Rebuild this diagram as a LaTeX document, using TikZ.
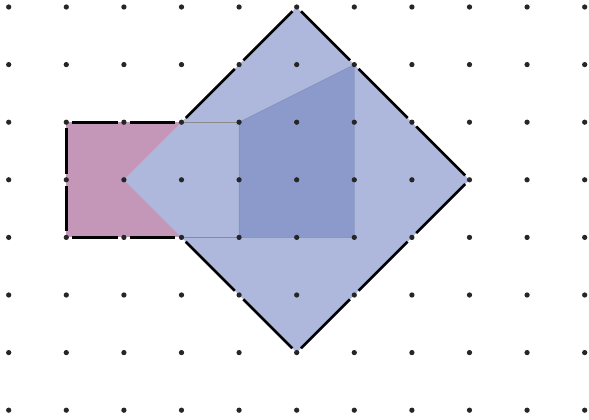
\documentclass[tikz,border=0pt]{standalone}
\usepackage{tikz}
\definecolor{pinkfill}{RGB}{196,151,185}
\definecolor{lightblue}{RGB}{174,184,220}
\definecolor{darkblue}{RGB}{140,154,203}

\begin{document}
\begin{tikzpicture}
\useasboundingbox (-0.151,-0.153) rectangle (10.075,7.1215);
\fill[pinkfill] (1,3) rectangle (3,5);
\fill[lightblue] (5,7) -- (8,4) -- (5,1) -- (3,3) -- (2,4) -- (3,5) -- cycle;
\filldraw[fill=darkblue,draw=darkblue!90!black,very thin] (4,3) -- (4,5) -- (6,6) -- (6,3) -- cycle;
\draw[black!45,thin] (3,5) -- (4,5) (3,3) -- (4,3);
\foreach \a/\b/\c/\d in {1/5/2/5,2/5/3/5,1/5/1/4,1/4/1/3,1/3/2/3,2/3/3/3,
  3/5/4/6,4/6/5/7,5/7/6/6,6/6/7/5,7/5/8/4,8/4/7/3,7/3/6/2,6/2/5/1,5/1/4/2,4/2/3/3}
  \draw[line width=1.3pt,shorten <=3pt,shorten >=3pt] (\a,\b) -- (\c,\d);
\foreach \x in {0,...,10}
  \foreach \y in {0,...,7}
    \fill[black!85] (\x,\y) circle (1.3pt);
\end{tikzpicture}
\end{document}
